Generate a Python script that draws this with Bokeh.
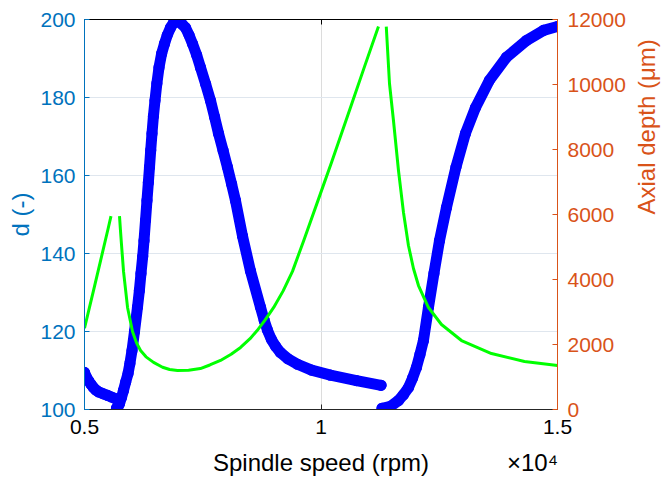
import math
from bokeh.plotting import figure
from bokeh.models import Range1d, LinearAxis, FixedTicker
from bokeh.embed import file_html
from bokeh.resources import INLINE

nan = float("nan")

# Blue markers: stability parameter d (-) vs spindle speed (rpm), three branches separated by NaN
rpm_d = [5000, 5040, 5090, 5140, 5190, 5240, 5300, 5400, 5490, 5570, 5650, nan,
         5676, 5710, 5740, 5782, 5824, 5870, 5920, 5960, 6004, 6057, 6120, 6160, 6194, 6230,
         6258, 6290, 6321, 6350, 6374, 6400, 6427, 6457, 6490, 6530, 6575, 6630, 6691, 6750,
         6818, 6880, 6945, 7010, 7070, 7135, 7210, 7283, 7370, 7452, 7560, 7664, 7750, 7833,
         7930, 8023, 8110, 8192, 8340, 8509, 8721, 8800, 8869, 8950, 9040, 9143, 9300, 9503,
         9800, 10200, 10750, 11270, nan,
         11290, 11469, 11638, 11744, 11849, 11934, 12018, 12092, 12166, 12272, 12388, 12505,
         12653, 12853, 13054, 13265, 13561, 13921, 14344, 14703, 15000]
d_vals = [109.5, 108.3, 107.3, 106.4, 105.6, 105.0, 104.5, 104.0, 103.6, 103.2, 102.8, nan,
          100.3, 100.8, 101.5, 103.1, 104.9, 107.0, 109.2, 111.8, 115.1, 120.0, 126.2, 130.5, 134.9, 139.2,
          143.3, 148.5, 153.6, 158.2, 162.1, 166.5, 170.8, 175.2, 179.2, 183.6, 187.7, 191.2, 193.8, 196.0,
          197.9, 199.1, 199.7, 199.3, 198.7, 197.9, 196.0, 193.8, 190.9, 187.7, 183.5, 179.2, 175.0, 170.8,
          166.4, 162.1, 157.8, 153.6, 144.5, 135.5, 126.2, 122.8, 120.3, 118.0, 116.2, 114.6, 113.0, 111.6,
          110.1, 108.8, 107.4, 106.2, nan,
          100.3, 100.8, 102.3, 103.8, 105.6, 108.0, 110.8, 114.1, 117.7, 126.2, 134.9, 143.3,
          151.8, 162.1, 170.8, 177.4, 184.4, 190.3, 194.6, 197.2, 198.2]

# Green line: axial depth (um) vs spindle speed (rpm), three lobes separated by NaN
rpm_a = [5000, 5100, 5190, 5270, 5340, 5440, 5500, 5560, nan,
         5740, 5760, 5780, 5825, 5910, 6015, 6100, 6185, 6300, 6460, 6650, 6800, 6965, 7200, 7450,
         7650, 7875, 8100, 8300, 8500, 8650, 8820, 9000, 9200, 9397, 9630, 9990, 10222, 10645,
         10920, 11215, nan,
         11380, 11448, 11532, 11638, 11744, 11849, 11955, 12061, 12272, 12547, 12970, 13604,
         14302, 15000]
depth = [2500, 3110, 3660, 4150, 4580, 5200, 5570, 5950, nan,
         5950, 5520, 5120, 4250, 3140, 2400, 2050, 1815, 1620, 1450, 1300, 1230, 1200, 1210, 1260,
         1370, 1510, 1700, 1910, 2180, 2430, 2760, 3140, 3650, 4250, 5180, 6650, 7600, 9385,
         10550, 11785, nan,
         11780, 10031, 8892, 7354, 6062, 5046, 4338, 3815, 3138, 2615, 2123, 1723,
         1477, 1354]

x_ticks = [5000, 10000, 15000]
x_tick_labels = {5000: "0.5", 10000: "1", 15000: "1.5"}
d_ticks = [100, 120, 140, 160, 180, 200]
depth_ticks = [0, 2000, 4000, 6000, 8000, 10000, 12000]
x_title = "Spindle speed (rpm)"
x_exponent = "×10⁴"
right_title = "Axial depth (μm)"

BLUE_AX = "#0072BD"
ORANGE_AX = "#D95319"
DARK = "#262626"
FONT = "Liberation Sans"
TICK_FS = "21px"
LABEL_FS = "24px"

p = figure(width=662, height=477, frame_width=473, frame_height=390,
           x_range=Range1d(5000, 15000), y_range=Range1d(100, 200),
           output_backend="svg", toolbar_location=None,
           min_border_left=84, min_border_right=105, min_border_top=19, min_border_bottom=68,
           x_axis_location=None, y_axis_location=None)
p.outline_line_color = None
p.background_fill_color = "white"
p.border_fill_color = "white"
p.extra_y_ranges = {"depth": Range1d(0, 12000)}


def style(ax, col):
    ax.axis_line_color = col
    ax.axis_line_width = 1
    ax.major_tick_line_color = col
    ax.major_tick_in = 5
    ax.major_tick_out = 0
    ax.minor_tick_line_color = None
    ax.major_label_text_color = col
    ax.major_label_text_font = FONT
    ax.major_label_text_font_size = TICK_FS
    ax.axis_label_text_color = col
    ax.axis_label_text_font = FONT
    ax.axis_label_text_font_size = LABEL_FS
    ax.axis_label_text_font_style = "normal"


# bottom axis with ticks
xb = LinearAxis(ticker=FixedTicker(ticks=x_ticks))
style(xb, DARK)
xb.major_label_overrides = x_tick_labels
xb.major_label_text_color = "black"
xb.major_label_standoff = 10

# second bottom row: axis title and exponent, drawn as labels of an axis without line/ticks
xtitle_pos = [10000, 14471]
xb2 = LinearAxis(ticker=FixedTicker(ticks=xtitle_pos))
style(xb2, "black")
xb2.axis_line_color = None
xb2.major_tick_line_color = None
xb2.major_label_overrides = {10000: x_title, 14471: x_exponent}
xb2.major_label_text_font_size = LABEL_FS
xb2.major_label_standoff = 12

# top box line
xt = LinearAxis(ticker=FixedTicker(ticks=x_ticks))
style(xt, "black")
xt.major_label_overrides = {t: "" for t in x_ticks}
xt.major_label_text_color = None
xt.major_label_text_font_size = "1px"
xt.major_label_standoff = 0

# left axis
yl = LinearAxis(ticker=FixedTicker(ticks=d_ticks), axis_label="d (-)")
style(yl, BLUE_AX)
yl.major_label_standoff = 9
yl.axis_label_standoff = 3

# right axis
yr = LinearAxis(ticker=FixedTicker(ticks=depth_ticks), y_range_name="depth")
style(yr, ORANGE_AX)
yr.major_label_standoff = 10

# right axis title, reading bottom to top
yr2 = LinearAxis(ticker=FixedTicker(ticks=[6000]), y_range_name="depth")
style(yr2, ORANGE_AX)
yr2.axis_line_color = None
yr2.major_tick_line_color = None
yr2.major_label_overrides = {6000: right_title}
yr2.major_label_orientation = math.pi / 2
yr2.major_label_text_font_size = LABEL_FS
yr2.major_label_standoff = 18

p.add_layout(xb, "below")
p.add_layout(xb2, "below")
p.add_layout(xt, "above")
p.add_layout(yl, "left")
p.add_layout(yr, "right")
p.add_layout(yr2, "right")

# Grid
p.xgrid.ticker = FixedTicker(ticks=x_ticks)
p.ygrid.ticker = FixedTicker(ticks=d_ticks)
p.xgrid.grid_line_color = "#dcdcdc"
p.ygrid.grid_line_color = "#dfe6ee"

# Data
p.line(rpm_d, d_vals, line_color="#0000FF", line_width=11, line_cap="round", line_join="round")
p.scatter(rpm_d, d_vals, marker="circle", size=10, line_color="#0000FF", line_width=1.2,
          fill_color=None)
p.line(rpm_a, depth, y_range_name="depth", line_color="#00FF00", line_width=3,
       line_join="round")

open("out.html", "w").write(file_html(p, INLINE))
